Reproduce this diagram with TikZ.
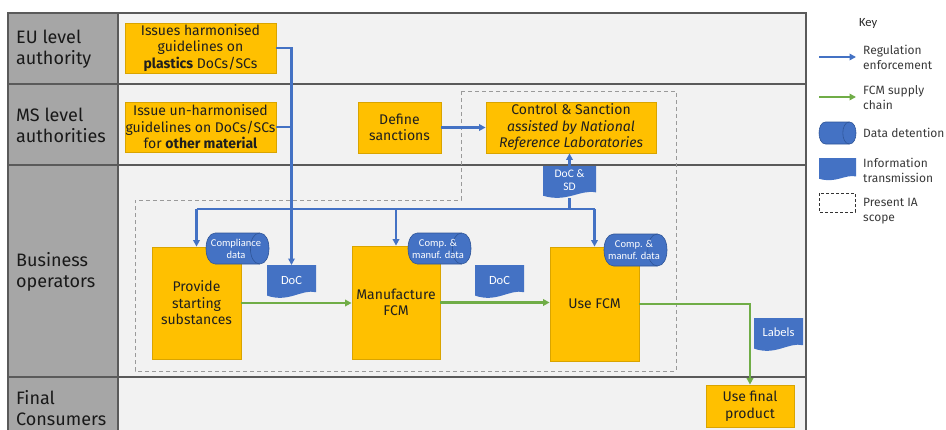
\documentclass[tikz,border=0pt]{standalone}
\usepackage{fontspec}
\setmainfont{Fira Sans}
\newfontfamily\calfont{Carlito}
\usetikzlibrary{arrows.meta,calc}

\definecolor{boxfill}{HTML}{FFC000}
\definecolor{boxline}{HTML}{D9A400}
\definecolor{regblue}{HTML}{4472C4}
\definecolor{shapeblue}{HTML}{4472C4}
\definecolor{shapeedge}{HTML}{2F5597}
\definecolor{supgreen}{HTML}{70AD47}
\definecolor{lanegray}{HTML}{A6A6A6}
\definecolor{panel}{HTML}{F2F2F2}
\definecolor{rulegray}{HTML}{5A5A5A}
\definecolor{scopegray}{HTML}{9A9A9A}
\definecolor{keytext}{HTML}{3A3A3A}

% document symbol: box with a wavy lower edge
\newcommand\DrawDoc[4]{%
  \fill[shapeblue] (#1,#2) -- (#3,#2) -- (#3,{#2+0.8*(#4-#2)})
    .. controls ({#3-0.3*(#3-#1)},{#2+0.7*(#4-#2)}) and ({#1+0.45*(#3-#1)},{#2+1.12*(#4-#2)})
    .. (#1,{#2+0.9*(#4-#2)}) -- cycle;}

% horizontal cylinder (stored data)
\newcommand\DrawCyl[4]{%
  \pgfmathsetmacro\cylrx{0.3*(#4-#2)}%
  \filldraw[fill=shapeblue, draw=shapeedge, line width=0.6pt]
    ({#1+\cylrx},#2) -- ({#3-\cylrx},#2)
    .. controls ({#3+\cylrx/3},#2) and ({#3+\cylrx/3},#4) .. ({#3-\cylrx},#4)
    -- ({#1+\cylrx},#4)
    .. controls ({#1-\cylrx/3},#4) and ({#1-\cylrx/3},#2) .. ({#1+\cylrx},#2) -- cycle;
  \draw[shapeedge, line width=0.6pt] ({#3-\cylrx},#2)
    .. controls ({#3-\cylrx-4*\cylrx/3},#2) and ({#3-\cylrx-4*\cylrx/3},#4) .. ({#3-\cylrx},#4);}

\tikzset{
  x=1pt, y=-1pt,
  stepbox/.style={draw=boxline, fill=boxfill, line width=0.8pt, align=center,
    inner sep=0pt, font=\fontsize{14}{16.5}\selectfont, text=black!88},
  lanelabel/.style={anchor=west, align=left, inner sep=0pt,
    font=\fontsize{18}{21}\selectfont, text=black!90},
  reg/.style={draw=regblue, line width=2.2pt, -{Triangle[length=6.5pt,width=6.5pt]}},
  regline/.style={draw=regblue, line width=2.2pt},
  sup/.style={draw=supgreen, line width=2.2pt, -{Triangle[length=6.5pt,width=6.5pt]}},
  shapetext/.style={text=white, align=center, inner sep=0pt,
    font=\calfont\fontsize{10.5}{12}\selectfont},
  doctext/.style={text=white, inner sep=0pt, font=\calfont\fontsize{12.5}{14}\selectfont},
  frame/.style={inner sep=0pt, outer sep=0pt},
  keylabel/.style={anchor=west, align=left, text=keytext, inner sep=0pt,
    font=\fontsize{12}{15}\selectfont},
}

\begin{document}
\begin{tikzpicture}
\fill[white] (0,0) rectangle (946,429);
\useasboundingbox (0,0) rectangle (946,429);

% swim-lane table
\fill[panel] (8,13) rectangle (806,432);
\fill[lanegray] (8,13) rectangle (118,432);
\draw[rulegray, line width=1.6pt] (8,432) -- (8,13) -- (806,13) -- (806,432);
\draw[rulegray, line width=1.6pt] (8,84) -- (806,84);
\draw[rulegray, line width=1.6pt] (8,165) -- (806,165);
\draw[rulegray, line width=1.6pt] (8,377) -- (806,377);
\draw[rulegray, line width=1.2pt] (118,13) -- (118,432);

\node[lanelabel] (laneEU) at (16,49) {EU level\\authority};
\node[lanelabel] (laneMS) at (16,125) {MS level\\authorities};
\node[lanelabel] (laneBO) at (16,272) {Business\\operators};
\node[lanelabel] (laneFC) at (16,408) {Final\\Consumers};

% present IA scope
\draw[scopegray, line width=0.9pt, dash pattern=on 4pt off 3pt]
  (461,91) -- (676,91) -- (676,371) -- (135,371) -- (135,200) -- (461,200) -- cycle;

% authority boxes
\node[stepbox, minimum width=151pt, minimum height=50pt] (eu) at (200.5,48)
  {Issues harmonised\\guidelines on\\\textbf{plastics} DoCs/SCs};
\node[stepbox, minimum width=151pt, minimum height=50pt] (ms) at (200.5,127)
  {Issue un-harmonised\\guidelines on DoCs/SCs\\for \textbf{other material}};
\node[stepbox, minimum width=83pt, minimum height=51pt] (define) at (399.5,127.5)
  {Define\\sanctions};
\node[stepbox, minimum width=170pt, minimum height=51pt] (control) at (571,127.5)
  {Control \& Sanction\\\textit{assisted by National}\\\textit{Reference Laboratories}};

% operator boxes
\node[stepbox, minimum width=89pt, minimum height=112pt] (provide) at (196.5,303)
  {Provide\\starting\\substances};
\node[stepbox, minimum width=88pt, minimum height=113pt] (manuf) at (396,302.5)
  {Manufacture\\FCM};
\node[stepbox, minimum width=89pt, minimum height=114pt] (usefcm) at (594.5,304)
  {Use FCM};
\node[stepbox, minimum width=88pt, minimum height=42pt] (final) at (750,406)
  {Use final\\product};

% document frames
\node[frame, minimum width=49pt, minimum height=33pt] (doc1) at (291.5,281.5) {};
\node[frame, minimum width=53pt, minimum height=32pt] (docsd) at (569.5,182) {};

% regulation enforcement
\coordinate (bus) at (0,209);
\draw[reg] (eu.east) -| (doc1.north);
\draw[regline] (ms.east) -- (ms.east -| doc1.north);
\draw[regline] (bus -| provide.north) -- (bus -| usefcm.north);
\draw[reg] (bus -| provide.north) -- (provide.north);
\draw[reg] (bus -| manuf.north) -- (manuf.north);
\draw[reg] (bus -| usefcm.north) -- (usefcm.north);
\draw[regline] (docsd.south) -- (docsd.south |- bus);
\draw[reg] (docsd.north) -- (docsd.north |- control.south);
\draw[reg] (define.east) -- (control.west);

% FCM supply chain
\draw[sup] (provide.east) -- (provide.east -| manuf.west);
\draw[sup] (manuf.east) -- (manuf.east -| usefcm.west);
\draw[sup] (usefcm.east) -| (final.north);

% information transmission
\DrawDoc{267}{265}{316}{299}
\node[doctext] (doc1t) at (291.5,280) {DoC};
\DrawDoc{475}{265}{524}{299}
\node[doctext] (doc2t) at (499.5,280) {DoC};
\DrawDoc{543}{166}{596}{199}
\node[shapetext, font=\calfont\fontsize{11.5}{13.5}\selectfont] (docsdt) at (569.5,180) {DoC \&\\SD};
\DrawDoc{754}{318}{803}{352}
\node[doctext] (labelst) at (778.5,332) {Labels};

% data detention
\DrawCyl{206}{233}{269}{264}
\node[shapetext] (cyl1t) at (236,248.5) {Compliance\\data};
\DrawCyl{408}{233}{471}{264}
\node[shapetext] (cyl2t) at (438,248.5) {Comp. \&\\manuf. data};
\DrawCyl{604}{234}{667}{266}
\node[shapetext] (cyl3t) at (634,250) {Comp. \&\\manuf. data};

% key
\node[anchor=west, inner sep=0pt, text=black!85, font=\calfont\fontsize{12.5}{14}\selectfont] (keyhead) at (859,23) {Key};
\coordinate (keyA1) at (819,57);
\coordinate (keyA2) at (856,57);
\draw[reg] (keyA1) -- (keyA2);
\node[keylabel] (keyreg) at (863,57.5) {Regulation\\enforcement};
\coordinate (keyB1) at (819,97);
\coordinate (keyB2) at (856,97);
\draw[sup] (keyB1) -- (keyB2);
\node[keylabel] (keysup) at (863,97.5) {FCM supply\\chain};
\DrawCyl{819}{122}{856}{144}
\node[keylabel] (keycyl) at (863,133) {Data detention};
\DrawDoc{819}{158}{856}{181}
\node[keylabel] (keydoc) at (863,170) {Information\\transmission};
\draw[black!80, line width=0.8pt, dash pattern=on 3pt off 2pt] (819,193) rectangle (855,212);
\node[keylabel] (keyscope) at (863,211) {Present IA\\scope};
\end{tikzpicture}
\end{document}
